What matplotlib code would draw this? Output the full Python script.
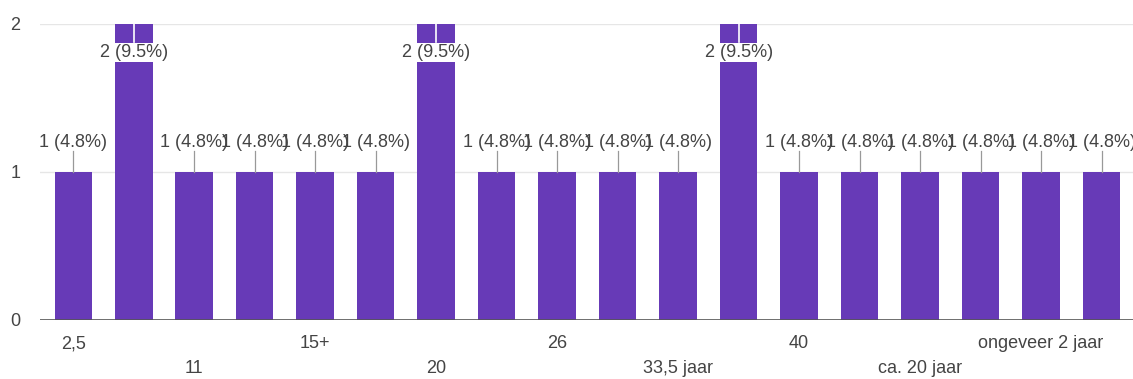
import matplotlib
matplotlib.use("Agg")
import matplotlib.pyplot as plt

# Answer categories (only every other one gets a visible label on the axis)
categories = ["2,5", "", "11", "", "15+", "", "20", "", "26", "",
              "33,5 jaar", "", "40", "", "ca. 20 jaar", "", "ongeveer 2 jaar", ""]
counts = [1, 2, 1, 1, 1, 1, 2, 1, 1, 1, 1, 2, 1, 1, 1, 1, 1, 1]
yticks = [0, 1, 2]

total = sum(counts)
bar_color = "#673ab7"
text_color = "#444444"

plt.rcParams["font.family"] = ["Liberation Sans", "DejaVu Sans"]

fig = plt.figure(figsize=(11.33, 3.79), dpi=100)
ax = fig.add_axes([40 / 1133, 59 / 379, 1093 / 1133, 296 / 379])

x = list(range(len(counts)))
ax.bar(x, counts, width=0.62, color=bar_color, zorder=2)

ax.set_xlim(-0.55, len(counts) - 0.48)
ax.set_ylim(0, 2)

# Horizontal gridlines and baseline
for y in yticks[1:]:
    ax.axhline(y, color="#e6e6e6", lw=1, zorder=1)
ax.axhline(0, color="#555555", lw=1.2, zorder=3)

for s in ax.spines.values():
    s.set_visible(False)

ax.set_yticks(yticks)
ax.set_yticklabels([str(v) for v in yticks], fontsize=13, color=text_color)
ax.tick_params(axis="y", length=0, pad=14)

ax.set_xticks(x)
ax.set_xticklabels(categories, fontsize=13, color=text_color)
ax.tick_params(axis="x", length=0)
shown = [i for i, c in enumerate(categories) if c]
for k, i in enumerate(shown):
    tick = ax.xaxis.get_major_ticks()[i]
    tick.set_pad(11 if k % 2 == 0 else 29)

# Value labels with short leader lines
ymax = ax.get_ylim()[1]
for xi, c in zip(x, counts):
    label = f"{c} ({c / total * 100:.1f}%)"
    if c + 0.2 < ymax:
        ax.plot([xi, xi], [c, c + 0.14], color="#999999", lw=0.9, zorder=3)
        ax.text(xi, c + 0.20, label, ha="center", va="center",
                fontsize=13, color=text_color, zorder=4)
    else:
        ax.plot([xi, xi], [ymax, ymax - 0.12], color="white", lw=1.2, zorder=3)
        ax.text(xi, ymax - 0.19, label, ha="center", va="center",
                fontsize=13, color=text_color, zorder=4,
                bbox=dict(facecolor="white", edgecolor="none", pad=0.6))

fig.savefig("out.png", dpi=100, facecolor="white")
